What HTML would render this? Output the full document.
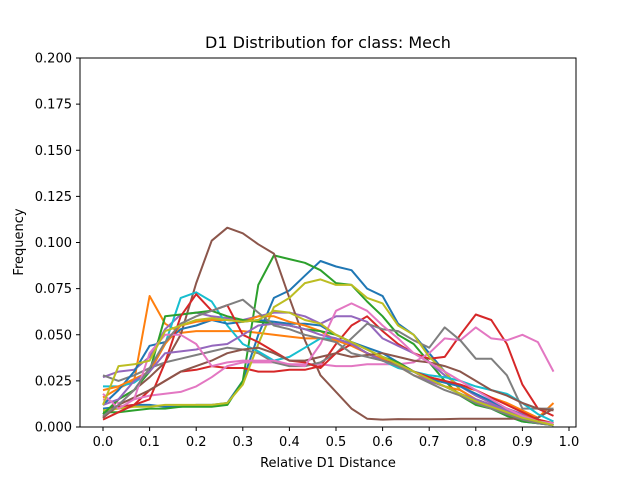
<!DOCTYPE html>
<html><head><meta charset="utf-8"><style>
body{margin:0;background:#fff}
svg text{font-family:"DejaVu Sans","Liberation Sans",sans-serif;fill:#000}
</style></head><body>
<svg id="chart" width="640" height="480" viewBox="0 0 640 480">
<rect width="640" height="480" fill="#fff"/>
<g id="lines"></g>
<rect x="80" y="58" width="496" height="369" fill="none" stroke="#000" stroke-width="1"/>
<g id="xt"></g>
<g id="yt"></g>
<text x="328" y="48" text-anchor="middle" font-size="16">D1 Distribution for class: Mech</text>
<text x="328" y="467" text-anchor="middle" font-size="13">Relative D1 Distance</text>
<text x="23" y="242" text-anchor="middle" font-size="13" transform="rotate(-90 23 242)">Frequency</text>
</svg>
<script>
const xTicks=[0.0,0.1,0.2,0.3,0.4,0.5,0.6,0.7,0.8,0.9,1.0];
const yTicks=[0.000,0.025,0.050,0.075,0.100,0.125,0.150,0.175,0.200];
const colors=["#1f77b4","#ff7f0e","#2ca02c","#d62728","#9467bd","#8c564b","#e377c2","#7f7f7f","#bcbd22","#17becf"];
const s0=[0.01,0.011,0.012,0.012,0.011,0.011,0.012,0.012,0.013,0.025,0.05,0.07,0.074,0.082,0.09,0.087,0.085,0.075,0.071,0.056,0.05,0.04,0.03,0.02,0.015,0.01,0.006,0.003,0.002,0.001];
const s1=[0.016,0.021,0.025,0.071,0.056,0.051,0.052,0.052,0.052,0.052,0.051,0.05,0.049,0.048,0.048,0.047,0.045,0.04,0.037,0.035,0.03,0.027,0.025,0.022,0.02,0.016,0.013,0.009,0.005,0.013];
const s2=[0.008,0.008,0.009,0.01,0.01,0.011,0.011,0.011,0.012,0.025,0.077,0.093,0.091,0.089,0.085,0.078,0.077,0.068,0.06,0.05,0.045,0.035,0.025,0.017,0.012,0.01,0.006,0.003,0.002,0.001];
const s3=[0.006,0.011,0.012,0.02,0.025,0.03,0.031,0.033,0.032,0.032,0.03,0.03,0.031,0.031,0.033,0.045,0.055,0.06,0.052,0.045,0.04,0.037,0.038,0.05,0.061,0.058,0.045,0.023,0.01,0.006];
const s4=[0.027,0.03,0.031,0.038,0.053,0.061,0.062,0.06,0.059,0.058,0.06,0.062,0.062,0.06,0.056,0.06,0.06,0.057,0.048,0.044,0.04,0.035,0.028,0.022,0.017,0.013,0.01,0.007,0.004,0.002];
const s5=[0.005,0.015,0.02,0.027,0.035,0.05,0.078,0.101,0.108,0.105,0.099,0.094,0.07,0.047,0.028,0.019,0.01,0.0045,0.004,0.0043,0.0042,0.0042,0.0043,0.0045,0.0045,0.0045,0.0045,0.0045,0.005,0.01];
const s6=[0.015,0.013,0.015,0.017,0.018,0.019,0.022,0.027,0.033,0.035,0.035,0.035,0.034,0.034,0.034,0.033,0.033,0.034,0.034,0.034,0.035,0.04,0.048,0.047,0.054,0.048,0.047,0.05,0.046,0.03];
const s7=[0.028,0.025,0.028,0.032,0.035,0.037,0.039,0.041,0.043,0.042,0.04,0.035,0.033,0.033,0.035,0.04,0.048,0.056,0.053,0.052,0.047,0.043,0.054,0.047,0.037,0.037,0.028,0.01,0.01,0.01];
const s8=[0.009,0.01,0.011,0.011,0.012,0.012,0.012,0.012,0.013,0.023,0.045,0.065,0.07,0.078,0.08,0.077,0.077,0.07,0.067,0.055,0.05,0.038,0.03,0.02,0.015,0.012,0.008,0.005,0.003,0.002];
const s9=[0.022,0.022,0.024,0.03,0.045,0.07,0.073,0.068,0.055,0.045,0.041,0.036,0.038,0.043,0.048,0.048,0.045,0.04,0.036,0.032,0.03,0.028,0.027,0.025,0.022,0.02,0.018,0.013,0.007,0.003];
const s10=[0.012,0.02,0.03,0.044,0.046,0.053,0.055,0.058,0.056,0.057,0.058,0.057,0.056,0.056,0.055,0.05,0.046,0.043,0.04,0.035,0.03,0.026,0.024,0.022,0.018,0.014,0.01,0.006,0.003,0.001];
const s11=[0.02,0.022,0.026,0.03,0.045,0.055,0.057,0.058,0.058,0.057,0.06,0.06,0.057,0.055,0.052,0.047,0.044,0.04,0.036,0.033,0.028,0.025,0.022,0.02,0.015,0.012,0.009,0.006,0.004,0.002];
const s12=[0.007,0.015,0.02,0.03,0.06,0.061,0.062,0.063,0.06,0.058,0.057,0.056,0.055,0.053,0.052,0.05,0.046,0.042,0.038,0.035,0.03,0.026,0.022,0.018,0.014,0.011,0.008,0.005,0.003,0.001];
const s13=[0.004,0.008,0.012,0.015,0.035,0.06,0.072,0.063,0.066,0.05,0.046,0.041,0.036,0.035,0.032,0.04,0.045,0.04,0.036,0.034,0.03,0.027,0.025,0.023,0.02,0.016,0.012,0.008,0.004,0.002];
const s14=[0.012,0.015,0.025,0.03,0.04,0.041,0.042,0.044,0.045,0.05,0.055,0.056,0.055,0.053,0.05,0.048,0.045,0.04,0.036,0.033,0.03,0.025,0.022,0.018,0.015,0.012,0.009,0.006,0.003,0.001];
const s15=[0.005,0.012,0.016,0.02,0.025,0.03,0.033,0.036,0.04,0.042,0.043,0.04,0.036,0.036,0.038,0.04,0.038,0.039,0.04,0.038,0.036,0.035,0.033,0.03,0.025,0.02,0.017,0.013,0.01,0.009];
const s16=[0.018,0.01,0.015,0.04,0.05,0.05,0.045,0.033,0.035,0.036,0.036,0.036,0.034,0.033,0.045,0.063,0.067,0.063,0.055,0.048,0.04,0.035,0.03,0.025,0.02,0.015,0.01,0.006,0.003,0.002];
const s17=[0.006,0.012,0.02,0.032,0.046,0.056,0.06,0.063,0.066,0.069,0.062,0.055,0.053,0.05,0.048,0.046,0.04,0.038,0.036,0.033,0.028,0.024,0.02,0.017,0.013,0.01,0.007,0.004,0.002,0.001];
const s18=[0.012,0.033,0.034,0.036,0.052,0.055,0.058,0.059,0.058,0.057,0.058,0.063,0.062,0.058,0.056,0.05,0.046,0.042,0.038,0.034,0.03,0.026,0.022,0.018,0.014,0.011,0.008,0.005,0.003,0.001];
const series=[s0,s1,s2,s3,s4,s5,s6,s7,s8,s9,s10,s11,s12,s13,s14,s15,s16,s17,s18];
const NS="http://www.w3.org/2000/svg";
function xs(v){return 103+v*466;}
function ys(v){return 427-v*1845;}
const lg=document.getElementById('lines');
series.forEach((s,k)=>{
  const p=document.createElementNS(NS,'polyline');
  p.setAttribute('points',s.map((v,i)=>xs(i/30).toFixed(1)+','+ys(v).toFixed(1)).join(' '));
  p.setAttribute('fill','none');p.setAttribute('stroke',colors[k%10]);p.setAttribute('stroke-width','2');
  p.setAttribute('stroke-linejoin','round');
  
  
  lg.appendChild(p);
});
const xg=document.getElementById('xt');
xTicks.forEach(t=>{
  const x=xs(t);
  const l=document.createElementNS(NS,'line');
  l.setAttribute('x1',x);l.setAttribute('x2',x);l.setAttribute('y1',427);l.setAttribute('y2',431);l.setAttribute('stroke','#000');
  
  
  xg.appendChild(l);
  const tx=document.createElementNS(NS,'text');
  tx.setAttribute('x',x);tx.setAttribute('y',446);tx.setAttribute('text-anchor','middle');tx.setAttribute('font-size','13');
  tx.textContent=t.toFixed(1);
  
  
  xg.appendChild(tx);
});
const yg=document.getElementById('yt');
yTicks.forEach(t=>{
  const y=ys(t);
  const l=document.createElementNS(NS,'line');
  l.setAttribute('x1',76);l.setAttribute('x2',80);l.setAttribute('y1',y);l.setAttribute('y2',y);l.setAttribute('stroke','#000');
  
  
  yg.appendChild(l);
  const tx=document.createElementNS(NS,'text');
  tx.setAttribute('x',72);tx.setAttribute('y',y+4.5);tx.setAttribute('text-anchor','end');tx.setAttribute('font-size','13');
  tx.textContent=t.toFixed(3);
  
  
  yg.appendChild(tx);
});
</script>
</body></html>
